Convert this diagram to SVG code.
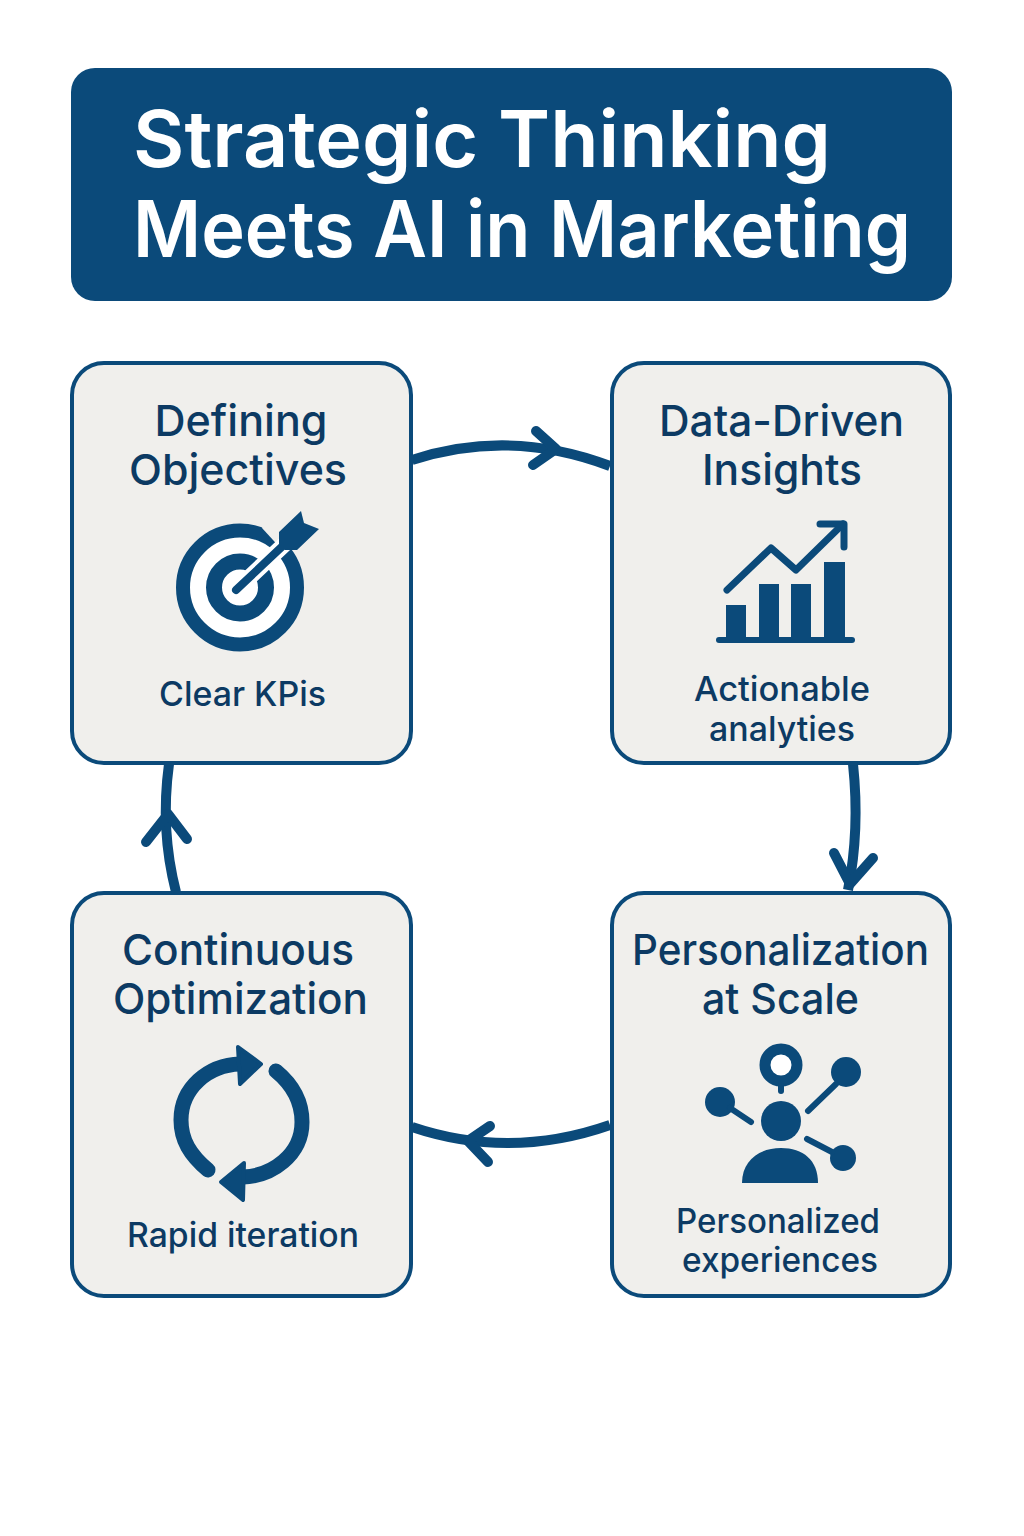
<svg xmlns="http://www.w3.org/2000/svg" width="1024" height="1536" viewBox="0 0 1024 1536">
<style>
text{font-family:Inter,"Liberation Sans",sans-serif;text-anchor:middle;fill:#0c3a63}
.t{font-size:43px;font-weight:500}
.s{font-size:34px;font-weight:500}
.h{font-size:78px;font-weight:600;fill:#fff;text-anchor:start}
.box{fill:#f0efec;stroke:#0b4a7a;stroke-width:4}
.c{fill:none;stroke:#0b4a7a;stroke-width:10;stroke-linejoin:round;stroke-linecap:round}
.i{fill:#0b4a7a}
.l{fill:none;stroke:#0b4a7a;stroke-linecap:round;stroke-linejoin:round}
</style>
<rect width="1024" height="1536" fill="#fff"/>
<g id="title"><rect x="71" y="68" width="881" height="233" rx="24" fill="#0b4a7a"/>
<text class="h" x="133" y="167" textLength="698" lengthAdjust="spacingAndGlyphs">Strategic Thinking</text>
<text class="h" x="133" y="257" textLength="778" lengthAdjust="spacingAndGlyphs">Meets AI in Marketing</text></g>
<g id="connectors">
<path class="c" style="stroke-linecap:butt" d="M412 460Q510 428 610 466"/><path class="c" d="M536 431L556 449L533 465"/>
<path class="c" style="stroke-linecap:butt" d="M853 764Q860 830 848 890"/><path class="c" d="M834 853L850 884L873 858"/>
<path class="c" style="stroke-linecap:butt" d="M610 1125Q510 1160 412 1127"/><path class="c" d="M490 1126L468 1141L488 1162"/>
<path class="c" style="stroke-linecap:butt" d="M176 892Q160 830 169 764"/><path class="c" d="M146 842L168 814L187 839"/>
</g>
<g id="node-objectives"><rect class="box" x="72" y="363" width="339" height="400" rx="32"/>
<text class="t" x="241" y="436" textLength="173" lengthAdjust="spacingAndGlyphs">Defining</text><text class="t" x="238" y="485" textLength="218" lengthAdjust="spacingAndGlyphs">Objectives</text>
<circle cx="240" cy="587.500" r="57" fill="#fff" stroke="#0b4a7a" stroke-width="14"/>
<circle cx="240" cy="587.500" r="26" fill="#fff" stroke="#0b4a7a" stroke-width="16"/>
<path d="M262 528L284 552L310 536L270 510Z" fill="#f0efec"/>
<path class="l" d="M236 590L288 541" style="stroke:#fff;stroke-width:16"/>
<path class="l" stroke-width="8" d="M236 590L288 541"/>
<path class="i" d="M279 532L301 511L304 523L319 529L297 550L285 550L279 544Z"/>
<text class="s" x="242.500" y="706" textLength="167" lengthAdjust="spacingAndGlyphs">Clear KPis</text></g>
<g id="node-insights"><rect class="box" x="612" y="363" width="338" height="400" rx="32"/>
<text class="t" x="781.500" y="436" textLength="245" lengthAdjust="spacingAndGlyphs">Data-Driven</text><text class="t" x="782" y="485" textLength="160" lengthAdjust="spacingAndGlyphs">Insights</text>
<path class="i" d="M726 605h20v35h-20zM759 584h20v56h-20zM791 584h20v56h-20zM824 562h21v78h-21z"/>
<rect class="i" x="716" y="637" width="139" height="6" rx="3"/>
<path class="l" stroke-width="7" d="M727 590L771 548L796 570L843 524"/>
<path class="l" stroke-width="7" d="M820 524H844V547"/>
<text class="s" x="782" y="701" textLength="176" lengthAdjust="spacingAndGlyphs">Actionable</text><text class="s" x="782" y="741" textLength="146" lengthAdjust="spacingAndGlyphs">analyties</text></g>
<g id="node-personalization"><rect class="box" x="612" y="893" width="338" height="403" rx="32"/>
<text class="t" x="780.500" y="965" textLength="297" lengthAdjust="spacingAndGlyphs">Personalization</text><text class="t" x="780.500" y="1014" textLength="157" lengthAdjust="spacingAndGlyphs">at Scale</text>
<circle cx="781" cy="1065" r="16" fill="#fff" stroke="#0b4a7a" stroke-width="11"/>
<path class="l" stroke-width="6" d="M781 1086V1091"/>
<circle class="i" cx="781" cy="1121" r="20"/>
<path class="i" d="M742 1183C742 1160 760 1148 781 1148C803 1148 818 1160 818 1183Z"/>
<circle class="i" cx="720" cy="1102" r="15"/><path class="l" stroke-width="6" d="M730 1108L751 1122"/>
<circle class="i" cx="846" cy="1072" r="15"/><path class="l" stroke-width="6" d="M836 1084L808 1111"/>
<circle class="i" cx="843" cy="1158" r="13"/><path class="l" stroke-width="6" d="M832 1152L807 1139"/>
<text class="s" x="778" y="1233" textLength="204" lengthAdjust="spacingAndGlyphs">Personalized</text><text class="s" x="780" y="1272" textLength="196" lengthAdjust="spacingAndGlyphs">experiences</text></g>
<g id="node-optimization"><rect class="box" x="72" y="893" width="339" height="403" rx="32"/>
<text class="t" x="238" y="965" textLength="232" lengthAdjust="spacingAndGlyphs">Continuous</text><text class="t" x="240.500" y="1014" textLength="255" lengthAdjust="spacingAndGlyphs">Optimization</text>
<path class="l" stroke-width="15" d="M208 1170C190 1155 181 1140 181 1120C181 1088 208 1065 240 1064"/>
<path class="l" stroke-width="15" d="M276 1071C293 1085 302 1103 302 1122C302 1155 272 1176 243 1177"/>
<path class="i" stroke="#0b4a7a" stroke-width="4" stroke-linejoin="round" d="M238 1047L261 1064L240 1084Z"/>
<path class="i" stroke="#0b4a7a" stroke-width="4" stroke-linejoin="round" d="M244 1163L221 1182L243 1200Z"/>
<text class="s" x="243" y="1247" textLength="232" lengthAdjust="spacingAndGlyphs">Rapid iteration</text></g>
</svg>
